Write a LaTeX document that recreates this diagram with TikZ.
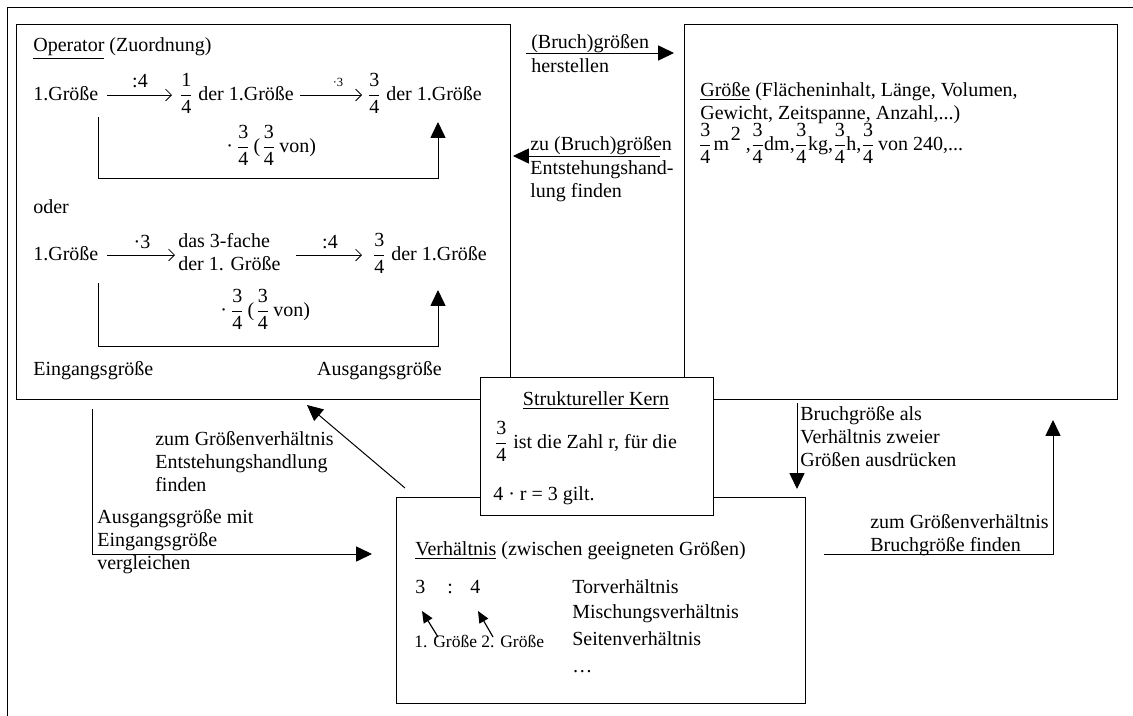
\documentclass[tikz,border=0pt]{standalone}
\usepackage{amsmath}
\usepackage{fontspec}
\setmainfont{Liberation Serif}
\usetikzlibrary{arrows.meta}
\newcommand{\fr}[2]{$\dfrac{\mbox{#1}}{\mbox{#2}}$}
\newcommand{\frn}[2]{{\nulldelimiterspace=0pt $\dfrac{\mbox{#1}}{\mbox{#2}}$}}
\newcommand{\ml}[1]{\begin{tabular}[t]{@{}l@{}}#1\end{tabular}}
\begin{document}
\begin{tikzpicture}[x=0.6pt,y=-0.6pt,
  box/.style={draw,line width=0.8pt,inner sep=0pt,anchor=north west},
  txt/.style={inner sep=0pt,anchor=base west,font=\fontsize{12}{13.8}\selectfont},
  smalltxt/.style={txt,font=\fontsize{10.5}{12}\selectfont},
  tinytxt/.style={txt,anchor=base,font=\fontsize{7.5}{9}\selectfont},
  big/.style={-{Triangle[length=9.5pt,width=9pt]},line width=0.6pt},
  thinarr/.style={-{Straight Barb[length=3.5pt,width=7pt]},line width=0.5pt},
  smallarr/.style={-{Triangle[length=7pt,width=6pt]},line width=0.7pt},
  frame/.style={line width=0.6pt}
]
\useasboundingbox (0,0) rectangle (1133,716);
% outer frame
\coordinate (fa) at (7,716);
\coordinate (fb) at (7,7);
\coordinate (fc) at (1133,7);
\draw[frame] (fa) -- (fb) -- (fc);

% boxes
\node[box,minimum width=296.4pt,minimum height=225pt] (op) at (16,24) {};
\node[box,minimum width=259.8pt,minimum height=225pt] (gr) at (684,24) {};
\node[box,minimum width=245.4pt,minimum height=123.6pt] (vh) at (396,497) {};
\node[box,fill=white,minimum width=139.8pt,minimum height=82.8pt] (kern) at (480,377) {};

% ---- operator box
\node[txt] (optitle) at (33,51) {\underline{Operator} (Zuordnung)};
\node[txt] (a1) at (33,100) {1.Größe};
\node[txt] (a2) at (179,100) {\fr{1}{4} der 1.Größe};
\node[txt] (a3) at (367,100) {\fr{3}{4} der 1.Größe};
\coordinate (a1s) at (107,95); \coordinate (a1e) at (172,95);
\coordinate (a2s) at (300,95); \coordinate (a2e) at (362,95);
\draw[thinarr] (a1s) -- (a1e);
\draw[thinarr] (a2s) -- (a2e);
\node[txt,anchor=base] (a1l) at (140,87) {:4};
\node[tinytxt] (a2l) at (338,86) {·3};
\coordinate (l1a) at (98,117); \coordinate (l1b) at (438,122);
\draw[big] (l1a) -- ++(0,61) -| (l1b);
\node[txt] (l1t) at (226,152) {·\hspace{2pt}\fr{3}{4}\hspace{2pt}(\hspace{1pt}\fr{3}{4}\hspace{2pt}von)};

\node[txt] (oder) at (33,213) {oder};
\node[txt] (b1) at (33,260) {1.Größe};
\node[txt] (b2) at (178,247) {\ml{das 3-fache\\der 1. Größe}};
\node[txt] (b3) at (372,260) {\fr{3}{4} der 1.Größe};
\coordinate (b1s) at (107,255); \coordinate (b1e) at (175,255);
\coordinate (b2s) at (296,255); \coordinate (b2e) at (362,255);
\draw[thinarr] (b1s) -- (b1e);
\draw[thinarr] (b2s) -- (b2e);
\node[txt,anchor=base] (b1l) at (142,248) {·3};
\node[txt,anchor=base] (b2l) at (330,248) {:4};
\coordinate (l2a) at (98,283); \coordinate (l2b) at (438,290);
\draw[big] (l2a) -- ++(0,63) -| (l2b);
\node[txt] (l2t) at (220,316) {·\hspace{2pt}\fr{3}{4}\hspace{2pt}(\hspace{1pt}\fr{3}{4}\hspace{2pt}von)};
\node[txt] (ein) at (33,375) {Eingangsgröße};
\node[txt,anchor=base east] (aus) at (442,375) {Ausgangsgröße};

% ---- Größe box
\node[txt] (g1) at (700,96) {\ml{\underline{Größe} (Flächeninhalt, Länge, Volumen,\\Gewicht, Zeitspanne, Anzahl,...)}};
\node[txt] (g2) at (700,150) {\frn{3}{4}\hspace{2pt}m\raisebox{6pt}{\hspace{1pt}2}\hspace{3pt},\hspace{1pt}\frn{3}{4}\hspace{1pt}dm,\hspace{1pt}\frn{3}{4}\hspace{1pt}kg,\hspace{1pt}\frn{3}{4}\hspace{1pt}h,\hspace{1pt}\frn{3}{4} von 240,...};

% ---- Kern box
\node[txt,anchor=base] (k1) at (596,405) {\underline{Struktureller Kern}};
\node[txt] (k2) at (494,448) {\fr{3}{4} ist die Zahl r, für die};
\node[txt] (k3) at (493,500) {4 · r = 3 gilt.};

% ---- Verhältnis box
\node[txt] (v1) at (415,555) {\underline{Verhältnis} (zwischen geeigneten Größen)};
\node[txt] (v3) at (415,593) {3};
\node[txt] (vc) at (447,593) {:};
\node[txt] (v4) at (470,593) {4};
\node[txt] (t1) at (572,593) {Torverhältnis};
\node[txt] (t2) at (572,618) {Mischungsverhältnis};
\node[txt] (t3) at (572,645) {Seitenverhältnis};
\node[txt] (t4) at (572,672) {…};
\node[smalltxt] (vg) at (414,647) {1. Größe 2. Größe};
\coordinate (s1a) at (438,637); \coordinate (s1b) at (422,611);
\coordinate (s2a) at (493,637); \coordinate (s2b) at (478,611);
\draw[smallarr] (s1a) -- (s1b);
\draw[smallarr] (s2a) -- (s2b);

% ---- connectors between boxes
\coordinate (c1s) at (526,53); \coordinate (c1e) at (674,53);
\draw[big] (c1s) -- (c1e);
\node[txt] (c1t) at (531,48) {(Bruch)größen};
\node[txt] (c1u) at (531,72) {herstellen};

\coordinate (c2s) at (660,156); \coordinate (c2e) at (513,156);
\draw[big] (c2s) -- (c2e);
\node[txt] (c2t) at (530,150) {zu (Bruch)größen};
\node[txt] (c2u) at (530,174) {\ml{Entstehungshand-\\lung finden}};

\coordinate (c3s) at (92,409); \coordinate (c3e) at (372,554);
\draw[big] (c3s) |- (c3e);
\node[txt] (c3t) at (97,523) {\ml{Ausgangsgröße mit\\Eingangsgröße\\vergleichen}};

\coordinate (c4s) at (405,488); \coordinate (c4e) at (307,405);
\draw[big] (c4s) -- (c4e);
\node[txt] (c4t) at (155,445) {\ml{zum Größenverhältnis\\Entstehungshandlung\\finden}};

\coordinate (c5s) at (797,403); \coordinate (c5e) at (797,489);
\draw[big] (c5s) -- (c5e);
\node[txt] (c5t) at (800,420) {\ml{Bruchgröße als\\Verhältnis zweier\\Größen ausdrücken}};

\coordinate (c6s) at (824,554); \coordinate (c6e) at (1053,420);
\draw[big] (c6s) -| (c6e);
\node[txt] (c6t) at (870,528) {\ml{zum Größenverhältnis\\Bruchgröße finden}};
\end{tikzpicture}
\end{document}
